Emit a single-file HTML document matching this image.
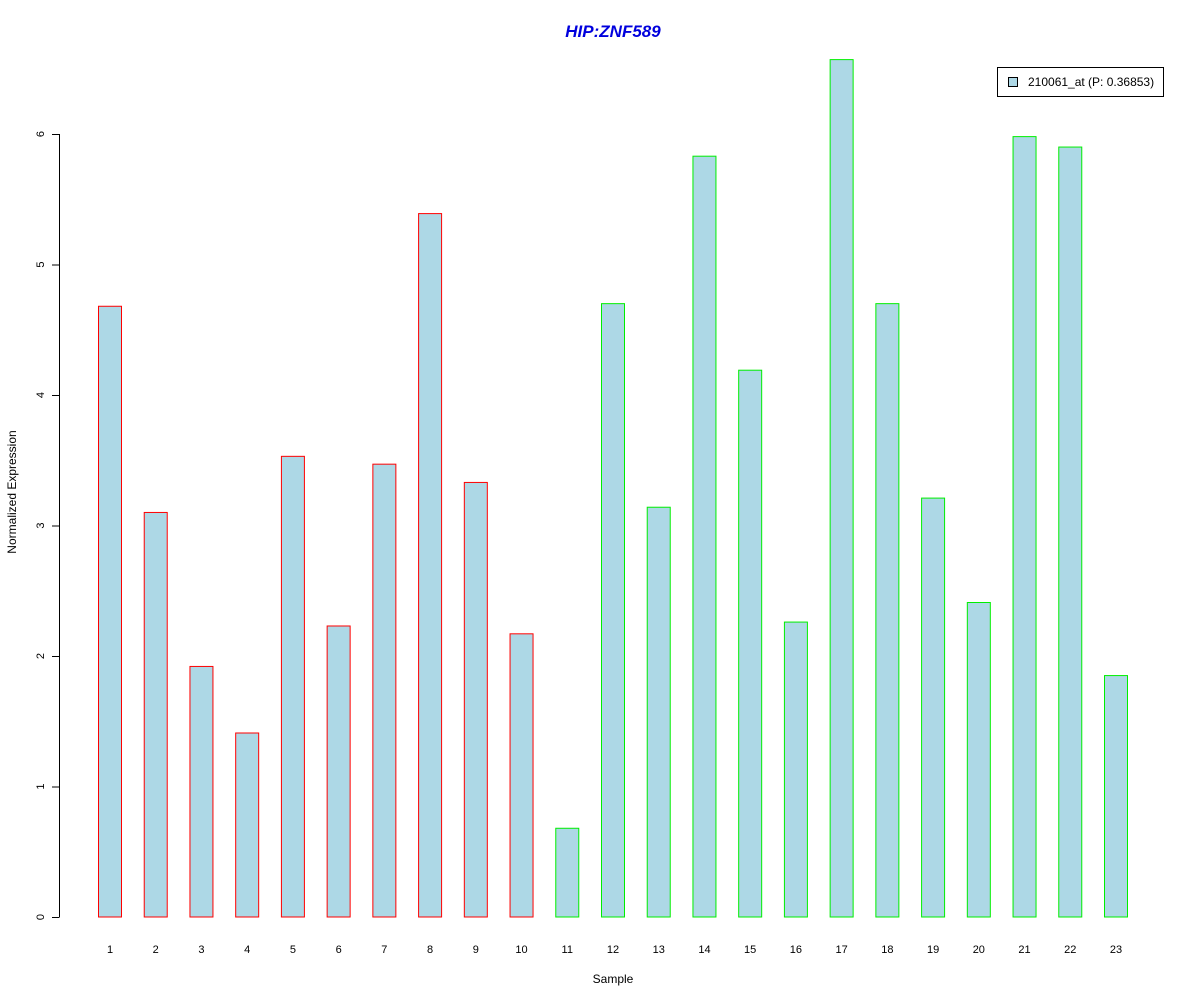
<!DOCTYPE html>
<html><head><meta charset="utf-8"><style>
body{margin:0;background:#fff;}
svg{display:block;font-family:"Liberation Sans",Arial,sans-serif;}
</style></head><body>
<svg id="chart" width="1200" height="1000">
<text x="613" y="37" text-anchor="middle" font-size="17" font-weight="bold" font-style="italic" fill="#0000dd">HIP:ZNF589</text>
<text x="16" y="492" text-anchor="middle" font-size="12" transform="rotate(-90 16 492)">Normalized Expression</text>
<text x="613" y="983" text-anchor="middle" font-size="12">Sample</text>
<g id="yaxis"></g>
<g id="bars"></g>
<g id="xlabels"></g>
<g>
<rect x="997.5" y="67.5" width="166" height="29" fill="#fff" stroke="#000"/>
<rect x="1008.5" y="77.5" width="9" height="9" fill="#add8e6" stroke="#000"/>
<text x="1028" y="86" font-size="12">210061_at (P: 0.36853)</text>
</g>
</svg>
<script>
const categories=["1","2","3","4","5","6","7","8","9","10","11","12","13","14","15","16","17","18","19","20","21","22","23"];
const values=[4.68,3.10,1.92,1.41,3.53,2.23,3.47,5.39,3.33,2.17,0.68,4.70,3.14,5.83,4.19,2.26,6.57,4.70,3.21,2.41,5.98,5.90,1.85];
const groups=["a","a","a","a","a","a","a","a","a","a","b","b","b","b","b","b","b","b","b","b","b","b","b"];
const yTicks=[0,1,2,3,4,5,6];
const NS="http://www.w3.org/2000/svg";
const y=v=>917-v*130.5;
const x=i=>110+i*(1116-110)/22;
const ya=document.getElementById('yaxis');
function mk(t,a,p){const e=document.createElementNS(NS,t);for(const k in a)e.setAttribute(k,a[k]);p.appendChild(e);return e;}
mk('line',{x1:59.5,x2:59.5,y1:y(0),y2:y(6),stroke:'#000'},ya);
yTicks.forEach(t=>{
 const l=mk('line',{x1:52,x2:59.5,y1:y(t)+0.5,y2:y(t)+0.5,stroke:'#000'},ya);
 
 
 const tx=mk('text',{x:44,y:y(t),'font-size':11,'text-anchor':'middle',transform:`rotate(-90 44 ${y(t)})`},ya);
 tx.textContent=t;
 
 
});
const bg=document.getElementById('bars'),xl=document.getElementById('xlabels');
values.forEach((v,i)=>{
 const r=mk('rect',{x:x(i)-11.5,y:y(v),width:23,height:y(0)-y(v),fill:'#add8e6',stroke:groups[i]==='a'?'#ff0000':'#00ee00'},bg);
 
 
 const t=mk('text',{x:x(i),y:953,'font-size':11,'text-anchor':'middle'},xl);
 t.textContent=categories[i];
 
 
});
</script>
</body></html>
